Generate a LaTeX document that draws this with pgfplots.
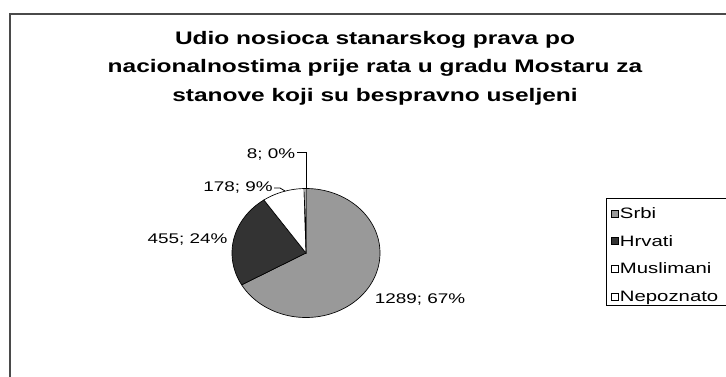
\documentclass[border=0pt]{standalone}
\usepackage{pgfplots}
\pgfplotsset{compat=1.18}
\usepackage{fontspec}
\setmainfont{Liberation Sans}[FakeStretch=1.35]
\definecolor{srbi}{HTML}{999999}
\definecolor{hrvati}{HTML}{333333}
\definecolor{frame}{HTML}{4A4A4A}
% data
\def\vS{1289}\def\vH{455}\def\vM{178}\def\vN{8}
\pgfmathsetmacro\tot{\vS+\vH+\vM+\vN}
\pgfmathsetmacro\aS{360*(\vS/\tot)}
\pgfmathsetmacro\aH{\aS+360*(\vH/\tot)}
\pgfmathsetmacro\aM{\aH+360*(\vM/\tot)}
\def\cx{306}\def\cy{253}\def\rx{74}\def\ry{64.5}
\begin{document}
\begin{tikzpicture}
\begin{axis}[
  scale only axis, width=544.5pt, height=282pt,
  xmin=0, xmax=726, ymin=0, ymax=376, y dir=reverse,
  hide axis,
  legend image code/.code={\draw[#1, line width=0.5pt] (0pt,1.2pt) rectangle (5.2pt,6.4pt);},
  legend style={at={(axis cs:611,206.5)}, anchor=north west, draw=none, fill=none,
    inner sep=0pt, row sep=9.2pt,
    font=\fontsize{11.3}{12}\selectfont,
    nodes={inner sep=0.8pt, text height=8pt, text depth=2pt, anchor=base west}},
  legend cell align=left,
]
% frame
\draw[frame, line width=1.6pt] (axis cs:10,400) -- (axis cs:10,14) -- (axis cs:760,14);
\draw[black, line width=0.6pt] (axis cs:606,198) rectangle (axis cs:780,305);
% pie
\addplot[fill=srbi, draw=black, line width=0.5pt, domain=0:\aS, samples=120]
  ({\cx+\rx*sin(x)}, {\cy-\ry*cos(x)}) -- (axis cs:\cx,\cy) -- cycle;
\addlegendentry{Srbi}
\addplot[fill=hrvati, draw=black, line width=0.5pt, domain=\aS:\aH, samples=60]
  ({\cx+\rx*sin(x)}, {\cy-\ry*cos(x)}) -- (axis cs:\cx,\cy) -- cycle;
\addlegendentry{Hrvati}
\addplot[fill=white, draw=black, line width=0.5pt, domain=\aH:\aM, samples=30]
  ({\cx+\rx*sin(x)}, {\cy-\ry*cos(x)}) -- (axis cs:\cx,\cy) -- cycle;
\addlegendentry{Muslimani}
\addplot[fill=white, draw=black, line width=0.5pt, domain=\aM:360, samples=5]
  ({\cx+\rx*sin(x)}, {\cy-\ry*cos(x)}) -- (axis cs:\cx,\cy) -- cycle;
\addlegendentry{Nepoznato}
% leader lines
\draw[black, line width=0.6pt] (axis cs:297,152) -- (axis cs:306,152) -- (axis cs:306,189);
\draw[black, line width=0.6pt] (axis cs:274,188) -- (axis cs:280,188) -- (axis cs:285,191);
% labels
\node[anchor=base, font=\fontsize{10.5}{12}\selectfont, inner sep=0pt] at (axis cs:271,158) {8; 0\%};
\node[anchor=base, font=\fontsize{10.5}{12}\selectfont, inner sep=0pt] at (axis cs:238,191) {178; 9\%};
\node[anchor=base, font=\fontsize{10.5}{12}\selectfont, inner sep=0pt] at (axis cs:187.5,243) {455; 24\%};
\node[anchor=base, font=\fontsize{10.5}{12}\selectfont, inner sep=0pt] at (axis cs:420,303) {1289; 67\%};
% title
\node[align=center, font=\bfseries\fontsize{13.6}{21.4}\selectfont] at (axis cs:375,68)
  {Udio nosioca stanarskog prava po\\nacionalnostima prije rata u gradu Mostaru za\\stanove koji su bespravno useljeni};
\end{axis}
\pgfresetboundingbox
\useasboundingbox (0,0) rectangle (544.5pt,282pt);
\end{tikzpicture}
\end{document}
